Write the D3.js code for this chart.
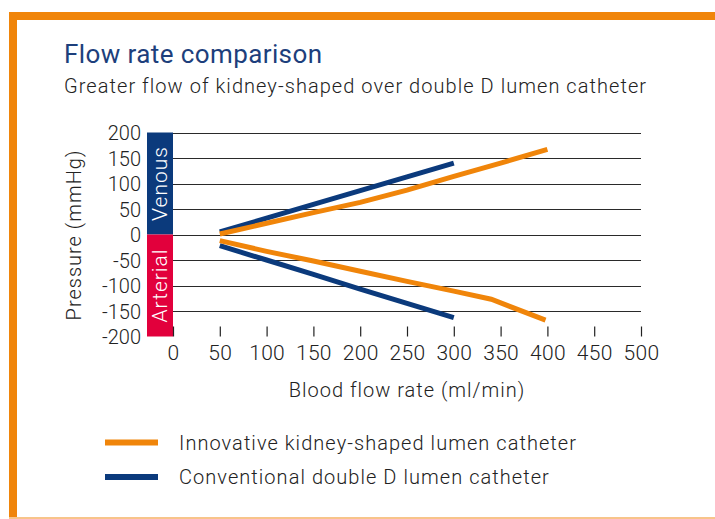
<!DOCTYPE html>
<html>
<head>
<meta charset="utf-8">
<script src="https://cdn.jsdelivr.net/npm/d3@7"></script>
<style>
  body { margin: 0; background: #fff; }
  svg text { font-family: Roboto, "Noto Sans", sans-serif; font-weight: 300; }
</style>
</head>
<body>
<script>
// blood flow rate (ml/min) vs pressure (mmHg)
var kidneyVenousX = [50, 100, 150, 200, 250, 300, 350, 400];
var kidneyVenousY = [1, 22, 43, 63, 87, 114, 140, 167];
var kidneyArterialX = [50, 100, 150, 200, 250, 300, 340, 398];
var kidneyArterialY = [-12, -33, -52, -72, -92, -111, -127, -168];
var doubleDVenousX = [50, 100, 150, 200, 250, 300];
var doubleDVenousY = [5, 32, 59, 86, 113, 140];
var doubleDArterialX = [50, 100, 150, 200, 250, 300];
var doubleDArterialY = [-22, -50, -78, -107, -135, -163];

var xTicks = [0, 50, 100, 150, 200, 250, 300, 350, 400, 450, 500];
var yTicks = [200, 150, 100, 50, 0, -50, -100, -150, -200];
var legendLabels = ["Innovative kidney-shaped lumen catheter", "Conventional double D lumen catheter"];

var orange = "#f0850a", navy = "#0b3a7c", red = "#e2003c";

function zip(xs, ys){
    return xs.map(function(x, i){ return [x, ys[i]]; });
}

var w = 715, h = 519;
var svg = d3.select("body").append("svg")
            .attr("width", w)
            .attr("height", h);

// frame
svg.append("rect").attr("x", 9).attr("y", 12).attr("width", w - 9).attr("height", 8).attr("fill", orange);
svg.append("rect").attr("x", 9).attr("y", 12).attr("width", 8).attr("height", h - 12).attr("fill", orange);
svg.append("rect").attr("x", 9).attr("y", 517).attr("width", w - 9).attr("height", 2).attr("fill", "#f8c48a");

svg.append("text").attr("x", 64).attr("y", 63)
   .attr("fill", "#1d3f7c").style("font-size", "26px").style("font-weight", 400)
   .style("letter-spacing", "0.4px")
   .text("Flow rate comparison");
svg.append("text").attr("x", 64).attr("y", 93)
   .attr("fill", "#222").style("font-size", "20px").style("letter-spacing", "1.05px")
   .text("Greater flow of kidney-shaped over double D lumen catheter");

var x = d3.scaleLinear().domain([0, 500]).range([173, 641]);
var y = d3.scaleLinear().domain([-200, 200]).range([336.5, 132.5]);

// venous / arterial bands
svg.append("rect").attr("x", 147).attr("width", 26)
   .attr("y", y(200)).attr("height", y(0) - y(200)).attr("fill", navy);
svg.append("rect").attr("x", 147).attr("width", 26)
   .attr("y", y(0)).attr("height", y(-200) - y(0)).attr("fill", red);

svg.append("text")
   .attr("transform", "translate(167," + (y(0) + y(200)) / 2 + ") rotate(-90)")
   .attr("text-anchor", "middle").attr("fill", "#fff").style("font-size", "21px")
   .style("letter-spacing", "1px")
   .text("Venous");
svg.append("text")
   .attr("transform", "translate(167," + (y(0) + y(-200)) / 2 + ") rotate(-90)")
   .attr("text-anchor", "middle").attr("fill", "#fff").style("font-size", "21px")
   .style("letter-spacing", "1px")
   .text("Arterial");

// gridlines
svg.append("g").selectAll("line")
   .data(yTicks.filter(function(d){ return d > -200; }))
   .enter().append("line")
   .attr("x1", 173).attr("x2", 641)
   .attr("y1", function(d){ return Math.round(y(d)) + 0.5; })
   .attr("y2", function(d){ return Math.round(y(d)) + 0.5; })
   .attr("stroke", "#2a2a2a").attr("stroke-width", 1.2);

// y axis labels
var yAxis = svg.append("g")
   .attr("transform", "translate(141,0)")
   .call(d3.axisLeft(y).tickValues(yTicks).tickSize(0).tickPadding(0)
           .tickFormat(function(d){ return String(d); }));
yAxis.select(".domain").remove();
yAxis.selectAll("text").style("font-size", "20px").attr("fill", "#222").attr("dy", "0.35em");

// x axis with upward ticks
var xAxis = svg.append("g")
   .attr("transform", "translate(0," + y(-200) + ")")
   .call(d3.axisBottom(x).tickValues(xTicks).tickSizeInner(-10).tickSizeOuter(0).tickPadding(9));
xAxis.select(".domain").remove();
xAxis.selectAll("line").attr("stroke", "#222").attr("stroke-width", 1.2);
xAxis.selectAll("text").style("font-size", "21px").attr("fill", "#222").style("letter-spacing", "0.3px");

svg.append("text")
   .attr("x", 407).attr("y", 397)
   .attr("text-anchor", "middle").attr("fill", "#222").style("font-size", "20px")
   .style("letter-spacing", "1px")
   .text("Blood flow rate (ml/min)");
svg.append("text")
   .attr("transform", "translate(81,235) rotate(-90)")
   .attr("text-anchor", "middle").attr("fill", "#222").style("font-size", "20px")
   .style("letter-spacing", "1px")
   .text("Pressure (mmHg)");

// data lines
var line = d3.line().x(function(d){ return x(d[0]); }).y(function(d){ return y(d[1]); });
var series = [
    {pts: zip(doubleDVenousX, doubleDVenousY), color: navy},
    {pts: zip(doubleDArterialX, doubleDArterialY), color: navy},
    {pts: zip(kidneyVenousX, kidneyVenousY), color: orange},
    {pts: zip(kidneyArterialX, kidneyArterialY), color: orange}
];
svg.append("g").selectAll("path")
   .data(series).enter().append("path")
   .attr("d", function(d){ return line(d.pts); })
   .attr("fill", "none")
   .attr("stroke", function(d){ return d.color; })
   .attr("stroke-width", 5);

// legend
var legend = svg.append("g").selectAll("g")
   .data(legendLabels).enter().append("g")
   .attr("transform", function(d, i){ return "translate(105," + (442.5 + i * 34.5) + ")"; });
legend.append("line")
   .attr("x1", 0).attr("x2", 53)
   .attr("stroke", function(d, i){ return i === 0 ? orange : navy; })
   .attr("stroke-width", 6);
legend.append("text")
   .attr("x", 74).attr("dy", "0.35em")
   .attr("fill", "#222").style("font-size", "20px").style("letter-spacing", "1.05px")
   .text(function(d){ return d; });
</script>
</body>
</html>
